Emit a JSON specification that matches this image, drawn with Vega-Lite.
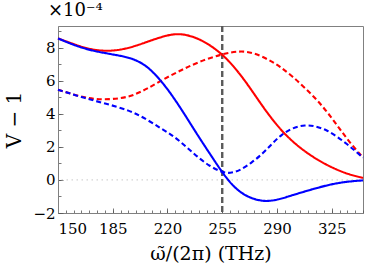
{
  "$schema": "https://vega.github.io/schema/vega-lite/v6.json",
  "width": 305,
  "height": 187,
  "autosize": {"type": "none"},
  "padding": {"left": 58, "top": 26, "right": 11, "bottom": 65},
  "background": "white",
  "config": {
    "view": {"stroke": "#808080", "strokeWidth": 1},
    "font": "DejaVu Serif"
  },
  "title": {
    "text": "×10⁻⁴",
    "anchor": "start",
    "frame": "group",
    "dx": -10,
    "offset": 5,
    "fontSize": 18,
    "font": "DejaVu Serif",
    "fontWeight": "normal",
    "color": "black"
  },
  "datasets": {
    "curves": [
      {"x": 150, "y": 8.55, "group": "a", "variant": "exact"},
      {"x": 160, "y": 8.2, "group": "a", "variant": "exact"},
      {"x": 170, "y": 7.9, "group": "a", "variant": "exact"},
      {"x": 180, "y": 7.77, "group": "a", "variant": "exact"},
      {"x": 190, "y": 7.85, "group": "a", "variant": "exact"},
      {"x": 200, "y": 8.1, "group": "a", "variant": "exact"},
      {"x": 210, "y": 8.45, "group": "a", "variant": "exact"},
      {"x": 220, "y": 8.75, "group": "a", "variant": "exact"},
      {"x": 227, "y": 8.84, "group": "a", "variant": "exact"},
      {"x": 235, "y": 8.72, "group": "a", "variant": "exact"},
      {"x": 245, "y": 8.3, "group": "a", "variant": "exact"},
      {"x": 255, "y": 7.6, "group": "a", "variant": "exact"},
      {"x": 262, "y": 6.9, "group": "a", "variant": "exact"},
      {"x": 270, "y": 5.95, "group": "a", "variant": "exact"},
      {"x": 280, "y": 4.55, "group": "a", "variant": "exact"},
      {"x": 287, "y": 3.65, "group": "a", "variant": "exact"},
      {"x": 295, "y": 2.75, "group": "a", "variant": "exact"},
      {"x": 305, "y": 1.9, "group": "a", "variant": "exact"},
      {"x": 316, "y": 1.2, "group": "a", "variant": "exact"},
      {"x": 325, "y": 0.75, "group": "a", "variant": "exact"},
      {"x": 335, "y": 0.35, "group": "a", "variant": "exact"},
      {"x": 345, "y": 0.12, "group": "a", "variant": "exact"},

      {"x": 150, "y": 5.45, "group": "a", "variant": "approx"},
      {"x": 160, "y": 5.15, "group": "a", "variant": "approx"},
      {"x": 170, "y": 4.92, "group": "a", "variant": "approx"},
      {"x": 179, "y": 4.85, "group": "a", "variant": "approx"},
      {"x": 190, "y": 4.92, "group": "a", "variant": "approx"},
      {"x": 198, "y": 5.1, "group": "a", "variant": "approx"},
      {"x": 207, "y": 5.5, "group": "a", "variant": "approx"},
      {"x": 217, "y": 6.06, "group": "a", "variant": "approx"},
      {"x": 228, "y": 6.6, "group": "a", "variant": "approx"},
      {"x": 239, "y": 7.1, "group": "a", "variant": "approx"},
      {"x": 255, "y": 7.62, "group": "a", "variant": "approx"},
      {"x": 266, "y": 7.8, "group": "a", "variant": "approx"},
      {"x": 275, "y": 7.7, "group": "a", "variant": "approx"},
      {"x": 285, "y": 7.25, "group": "a", "variant": "approx"},
      {"x": 292, "y": 6.85, "group": "a", "variant": "approx"},
      {"x": 300, "y": 6.25, "group": "a", "variant": "approx"},
      {"x": 308, "y": 5.55, "group": "a", "variant": "approx"},
      {"x": 316, "y": 4.8, "group": "a", "variant": "approx"},
      {"x": 323, "y": 4.0, "group": "a", "variant": "approx"},
      {"x": 330, "y": 3.1, "group": "a", "variant": "approx"},
      {"x": 337, "y": 2.2, "group": "a", "variant": "approx"},
      {"x": 345, "y": 1.35, "group": "a", "variant": "approx"},

      {"x": 150, "y": 8.55, "group": "b", "variant": "exact"},
      {"x": 160, "y": 8.15, "group": "b", "variant": "exact"},
      {"x": 170, "y": 7.85, "group": "b", "variant": "exact"},
      {"x": 179, "y": 7.68, "group": "b", "variant": "exact"},
      {"x": 190, "y": 7.5, "group": "b", "variant": "exact"},
      {"x": 197, "y": 7.35, "group": "b", "variant": "exact"},
      {"x": 204, "y": 7.05, "group": "b", "variant": "exact"},
      {"x": 210, "y": 6.6, "group": "b", "variant": "exact"},
      {"x": 217, "y": 5.86, "group": "b", "variant": "exact"},
      {"x": 223, "y": 5.1, "group": "b", "variant": "exact"},
      {"x": 229, "y": 4.25, "group": "b", "variant": "exact"},
      {"x": 235, "y": 3.35, "group": "b", "variant": "exact"},
      {"x": 241, "y": 2.45, "group": "b", "variant": "exact"},
      {"x": 248, "y": 1.45, "group": "b", "variant": "exact"},
      {"x": 255, "y": 0.45, "group": "b", "variant": "exact"},
      {"x": 262, "y": -0.4, "group": "b", "variant": "exact"},
      {"x": 270, "y": -1.0, "group": "b", "variant": "exact"},
      {"x": 281, "y": -1.33, "group": "b", "variant": "exact"},
      {"x": 290, "y": -1.22, "group": "b", "variant": "exact"},
      {"x": 300, "y": -0.92, "group": "b", "variant": "exact"},
      {"x": 313, "y": -0.55, "group": "b", "variant": "exact"},
      {"x": 325, "y": -0.25, "group": "b", "variant": "exact"},
      {"x": 335, "y": -0.1, "group": "b", "variant": "exact"},
      {"x": 345, "y": -0.03, "group": "b", "variant": "exact"},

      {"x": 150, "y": 5.45, "group": "b", "variant": "approx"},
      {"x": 165, "y": 5.0, "group": "b", "variant": "approx"},
      {"x": 180, "y": 4.62, "group": "b", "variant": "approx"},
      {"x": 196, "y": 4.2, "group": "b", "variant": "approx"},
      {"x": 206, "y": 3.7, "group": "b", "variant": "approx"},
      {"x": 216, "y": 3.1, "group": "b", "variant": "approx"},
      {"x": 224, "y": 2.65, "group": "b", "variant": "approx"},
      {"x": 232, "y": 2.0, "group": "b", "variant": "approx"},
      {"x": 239, "y": 1.4, "group": "b", "variant": "approx"},
      {"x": 247, "y": 0.82, "group": "b", "variant": "approx"},
      {"x": 255, "y": 0.45, "group": "b", "variant": "approx"},
      {"x": 260, "y": 0.4, "group": "b", "variant": "approx"},
      {"x": 266, "y": 0.55, "group": "b", "variant": "approx"},
      {"x": 274, "y": 1.05, "group": "b", "variant": "approx"},
      {"x": 281, "y": 1.6, "group": "b", "variant": "approx"},
      {"x": 287, "y": 2.2, "group": "b", "variant": "approx"},
      {"x": 293, "y": 2.75, "group": "b", "variant": "approx"},
      {"x": 300, "y": 3.15, "group": "b", "variant": "approx"},
      {"x": 308, "y": 3.33, "group": "b", "variant": "approx"},
      {"x": 315, "y": 3.25, "group": "b", "variant": "approx"},
      {"x": 322, "y": 3.0, "group": "b", "variant": "approx"},
      {"x": 328, "y": 2.65, "group": "b", "variant": "approx"},
      {"x": 335, "y": 2.15, "group": "b", "variant": "approx"},
      {"x": 340, "y": 1.75, "group": "b", "variant": "approx"},
      {"x": 345, "y": 1.35, "group": "b", "variant": "approx"}
    ]
  },
  "layer": [
    {
      "data": {"values": [{"v": 0}]},
      "mark": {"type": "rule", "color": "#bbbbbb", "strokeWidth": 0.8, "strokeDash": [1.5, 3.5]},
      "encoding": {
        "y": {
          "field": "v",
          "type": "quantitative",
          "scale": {"domain": [-2, 9.3], "nice": false, "zero": false},
          "axis": {
            "orient": "left",
            "values": [-2, -1, 0, 1, 2, 3, 4, 5, 6, 7, 8, 9],
            "labels": false,
            "domain": false,
            "grid": false,
            "title": null,
            "tickSize": -3,
            "tickColor": "#555555",
            "tickWidth": 0.8
          }
        }
      }
    },
    {
      "data": {"values": [{"f": 255}]},
      "mark": {"type": "rule", "color": "#5a5a5a", "strokeWidth": 2.4, "strokeDash": [6, 3]},
      "encoding": {
        "x": {
          "field": "f",
          "type": "quantitative",
          "scale": {"domain": [150, 345], "nice": false, "zero": false},
          "axis": {
            "orient": "bottom",
            "values": [150, 155, 160, 165, 170, 175, 180, 185, 190, 195, 200, 205, 210, 215, 220, 225, 230, 235, 240, 245, 250, 255, 260, 265, 270, 275, 280, 285, 290, 295, 300, 305, 310, 315, 320, 325, 330, 335, 340, 345],
            "labels": false,
            "domain": false,
            "grid": false,
            "title": null,
            "tickSize": -3,
            "tickColor": "#555555",
            "tickWidth": 0.8
          }
        }
      }
    },
    {
      "data": {"name": "curves"},
      "mark": {"type": "line", "interpolate": "basis", "strokeWidth": 2.1},
      "encoding": {
        "x": {
          "field": "x",
          "type": "quantitative",
          "scale": {"domain": [150, 345], "nice": false, "zero": false},
          "axis": {
            "orient": "bottom",
            "values": [150, 185, 220, 255, 290, 325],
            "grid": false,
            "domainColor": "#808080",
            "domainWidth": 1,
            "tickSize": -5,
            "tickColor": "#555555",
            "tickWidth": 0.8,
            "labelFont": "DejaVu Serif",
            "labelFontSize": 15,
            "labelColor": "black",
            "labelPadding": 13,
            "title": "ω̃/(2π) (THz)",
            "titleFont": "DejaVu Serif",
            "titleFontSize": 19,
            "titleFontWeight": "normal",
            "titleColor": "black",
            "titlePadding": 8
          }
        },
        "y": {
          "field": "y",
          "type": "quantitative",
          "scale": {"domain": [-2, 9.3], "nice": false, "zero": false},
          "axis": {
            "orient": "left",
            "values": [-2, 0, 2, 4, 6, 8],
            "grid": false,
            "domainColor": "#808080",
            "domainWidth": 1,
            "tickSize": -5,
            "tickColor": "#555555",
            "tickWidth": 0.8,
            "labelFont": "DejaVu Serif",
            "labelFontSize": 15,
            "labelColor": "black",
            "labelPadding": 8,
            "title": "V − 1",
            "titleFont": "DejaVu Serif",
            "titleFontSize": 20,
            "titleFontWeight": "normal",
            "titleColor": "black",
            "titlePadding": 8
          }
        },
        "color": {
          "field": "group",
          "type": "nominal",
          "scale": {"domain": ["a", "b"], "range": ["#ff0000", "#0000ff"]},
          "legend": null
        },
        "strokeDash": {
          "field": "variant",
          "type": "nominal",
          "scale": {"domain": ["exact", "approx"], "range": [[1, 0], [5, 3]]},
          "legend": null
        },
        "detail": {"field": "variant", "type": "nominal"}
      }
    }
  ],
  "resolve": {
    "scale": {"x": "shared", "y": "shared"},
    "axis": {"x": "independent", "y": "independent"}
  }
}
